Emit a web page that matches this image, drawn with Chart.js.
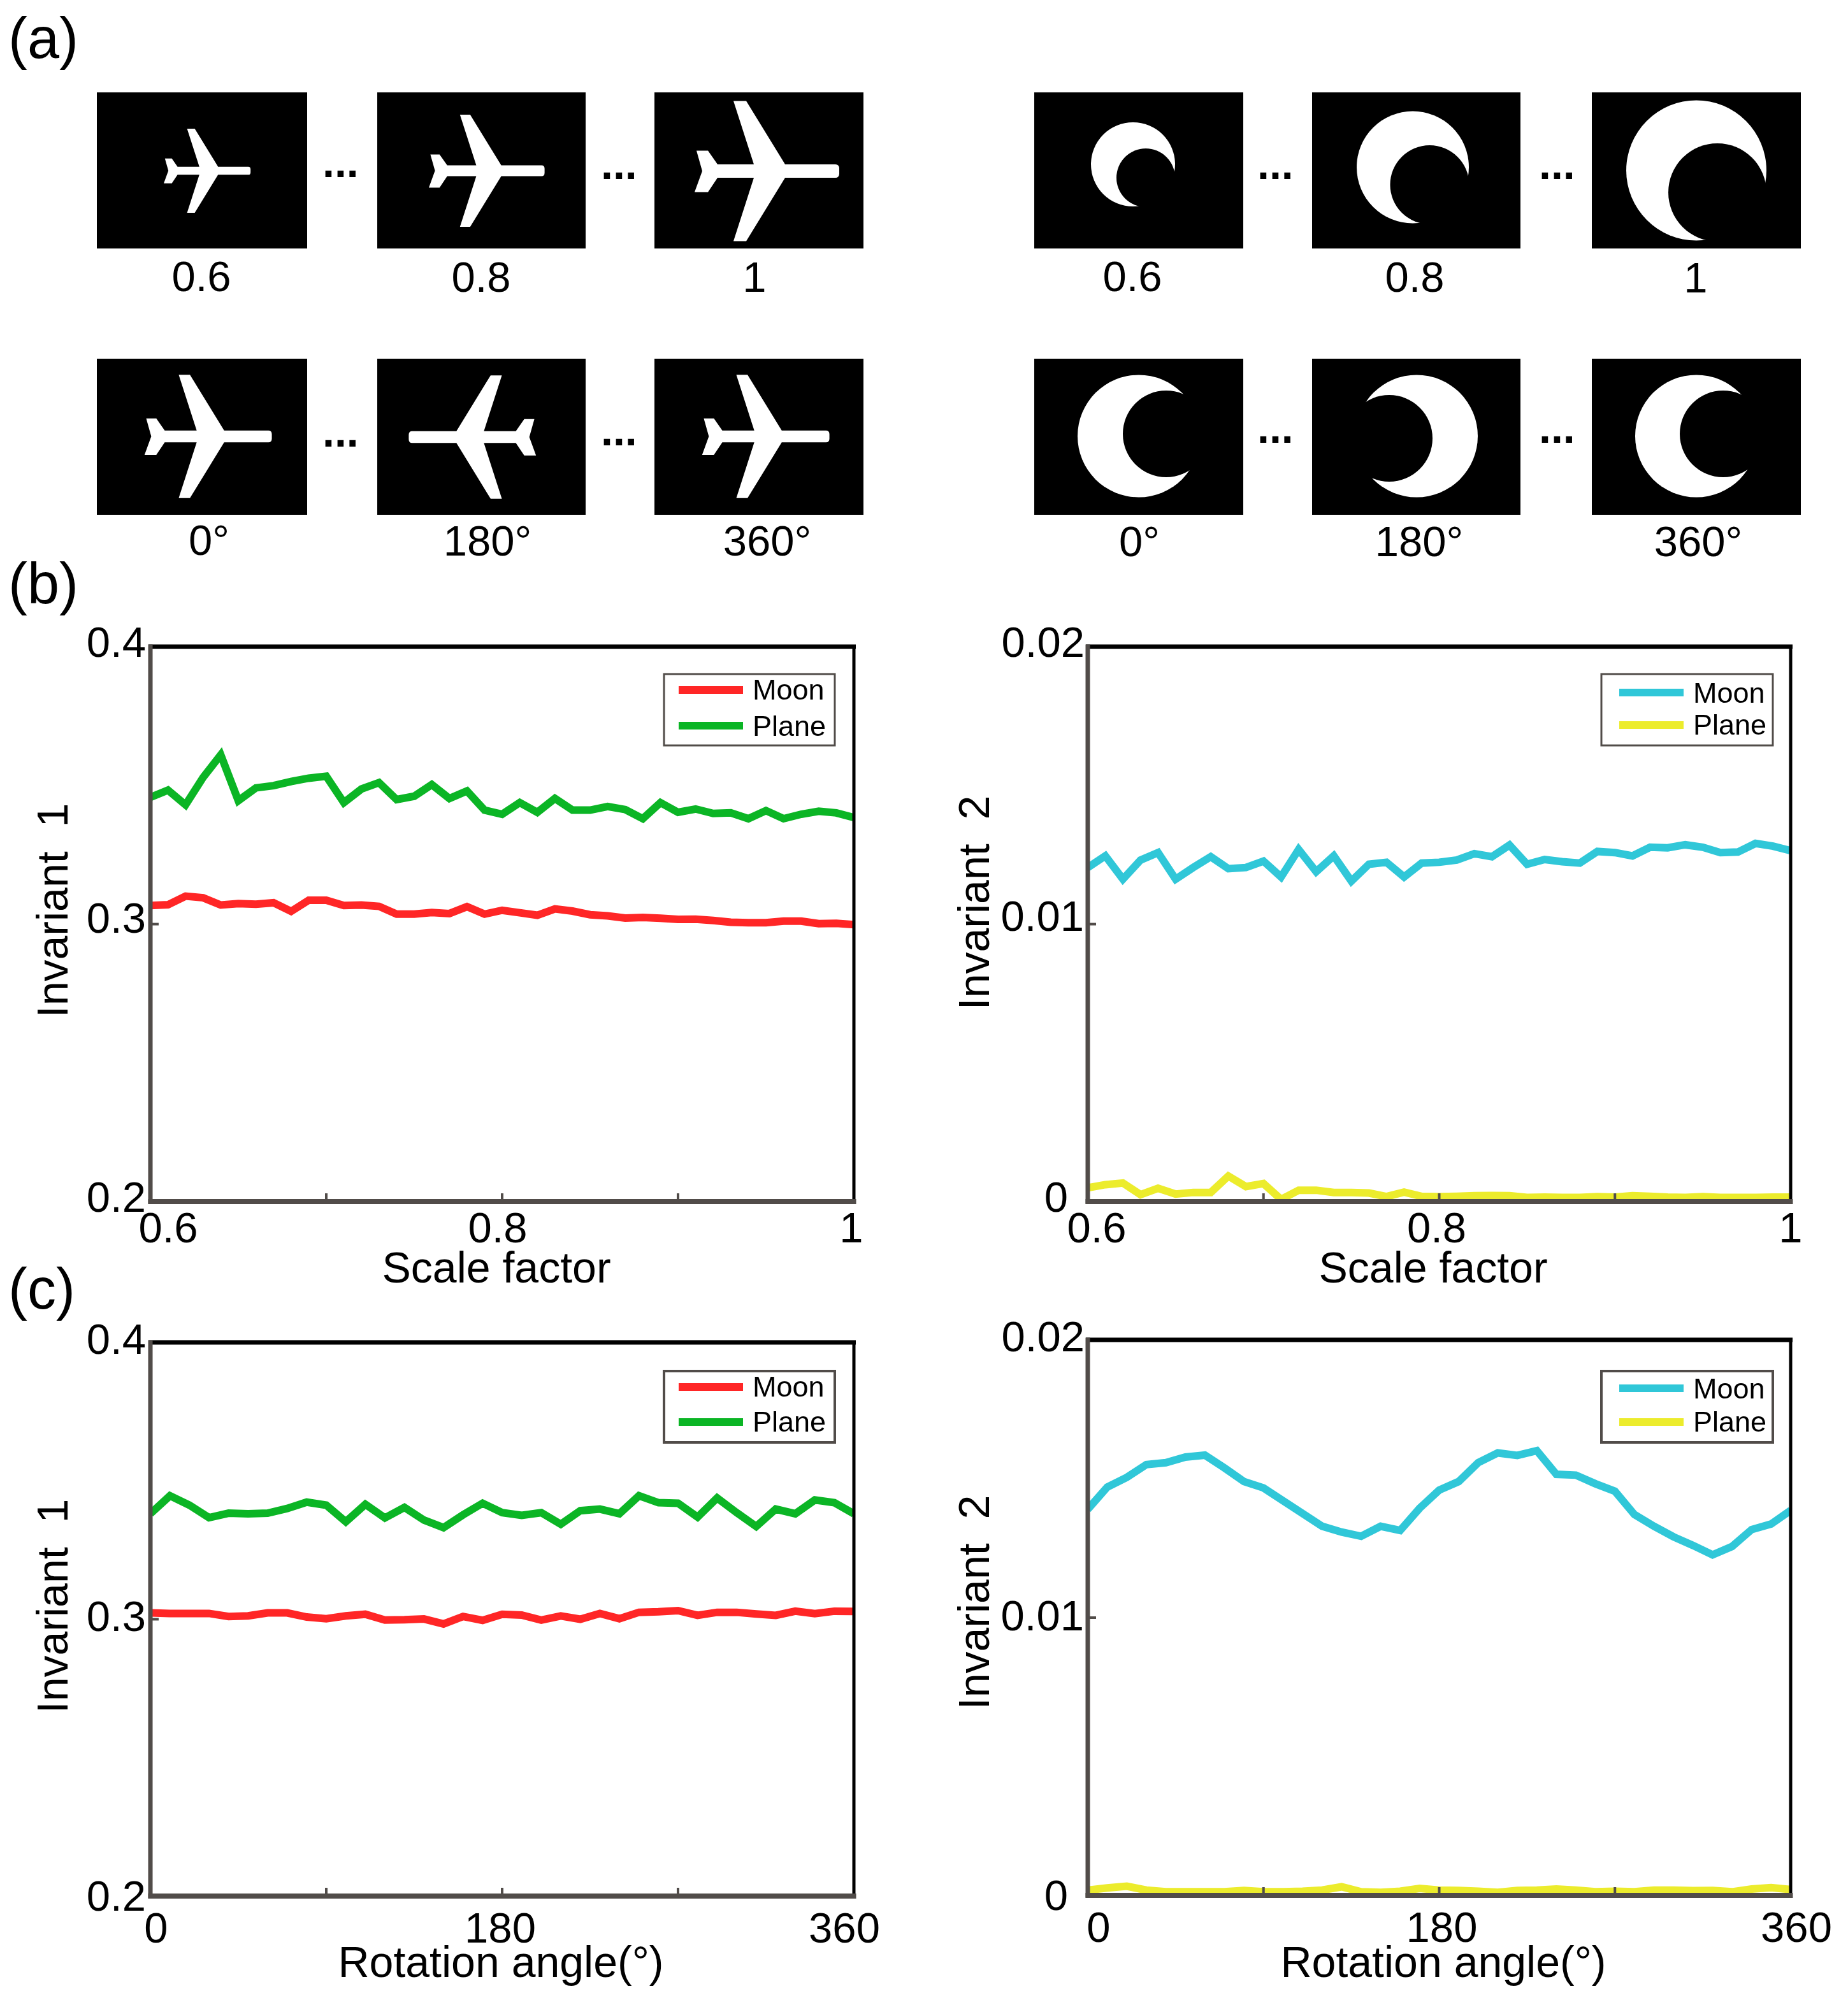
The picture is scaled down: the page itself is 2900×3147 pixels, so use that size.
<!DOCTYPE html>
<html>
<head>
<meta charset="utf-8">
<title>Invariants</title>
<style>
html,body{margin:0;padding:0;background:#fff;width:2900px;height:3147px;overflow:hidden}
canvas{position:absolute;display:block}
svg{position:absolute;left:0;top:0;pointer-events:none}
svg text{font-family:"Liberation Sans",Arial,sans-serif;fill:#000}
</style>
<script src="https://cdn.jsdelivr.net/npm/chart.js@4/dist/chart.umd.js"></script>
</head>
<body>
<svg id="art" width="2900" height="3147" viewBox="0 0 2900 3147" xmlns="http://www.w3.org/2000/svg">
<defs>
<path id="plane" fill="#fff" d="M27,-10.6 L106,-10.6 Q112,-10.6 112,-4 L112,4 Q112,10.6 106,10.6 L27,10.6 L-34,110 L-54,110 L-22,10.6 L-79,10.6 L-94,33 L-115,33 L-103,0 L-112,-32 L-94,-32 L-79,-10.6 L-22,-10.6 L-54,-110 L-34,-110 Z"/>
</defs>
</svg>
<canvas id="c1" width="1440" height="1060" style="left:0;top:980px"></canvas>
<canvas id="c2" width="1450" height="1060" style="left:1450px;top:980px"></canvas>
<canvas id="c3" width="1440" height="1087" style="left:0;top:2060px"></canvas>
<canvas id="c4" width="1450" height="1087" style="left:1450px;top:2060px"></canvas>
<script>
const scaleFactors = [0.60,0.61,0.62,0.63,0.64,0.65,0.66,0.67,0.68,0.69,0.70,0.71,0.72,0.73,0.74,0.75,0.76,0.77,0.78,0.79,0.80,0.81,0.82,0.83,0.84,0.85,0.86,0.87,0.88,0.89,0.90,0.91,0.92,0.93,0.94,0.95,0.96,0.97,0.98,0.99,1.00];
const rotationAngles = [0,10,20,30,40,50,60,70,80,90,100,110,120,130,140,150,160,170,180,190,200,210,220,230,240,250,260,270,280,290,300,310,320,330,340,350,360];

const scaleMoonInv1 = [.3067,.3070,.3101,.3095,.3069,.3074,.3072,.3077,.3046,.3086,.3086,.3067,.3069,.3064,.3036,.3036,.3042,.3038,.3063,.3036,.3050,.3041,.3032,.3055,.3047,.3034,.3030,.3022,.3024,.3021,.3017,.3018,.3013,.3007,.3005,.3005,.3011,.3011,.3002,.3003,.2998];
const scalePlaneInv1 = [.3457,.3483,.3430,.3529,.3610,.3445,.3491,.3499,.3514,.3526,.3533,.3438,.3487,.3510,.3449,.3461,.3503,.3453,.3480,.3411,.3396,.3438,.3403,.3453,.3411,.3411,.3424,.3413,.3380,.3438,.3403,.3415,.3399,.3401,.3380,.3409,.3380,.3396,.3407,.3401,.3384];
const scaleMoonInv2 = [.01204,.01246,.01162,.01231,.01258,.01162,.01204,.01243,.01200,.01204,.01227,.01170,.01269,.01189,.01246,.01155,.01216,.01223,.01170,.01220,.01223,.01231,.01254,.01243,.01285,.01216,.01233,.01225,.01220,.01262,.01258,.01246,.01277,.01275,.01286,.01277,.01258,.01260,.01291,.01281,.01265];
const scalePlaneInv2 = [.00050,.00061,.00067,.00025,.00048,.00027,.00033,.00033,.00092,.00054,.00065,.00008,.00041,.00041,.00033,.00033,.00031,.00018,.00034,.00019,.00018,.00019,.00021,.00022,.00021,.00015,.00016,.00015,.00015,.00018,.00016,.00021,.00019,.00016,.00015,.00018,.00015,.00015,.00015,.00016,.00016];
const rotMoonInv1 = [.3023,.3021,.3021,.3021,.3010,.3012,.3023,.3023,.3008,.3002,.3012,.3018,.2997,.2998,.3001,.2983,.3010,.2996,.3018,.3015,.2997,.3012,.3000,.3021,.3002,.3025,.3027,.3031,.3014,.3025,.3025,.3019,.3014,.3029,.3020,.3029,.3028];
const rotPlaneInv1 = [.3381,.3446,.3412,.3367,.3383,.3381,.3383,.3400,.3423,.3412,.3352,.3415,.3366,.3404,.3358,.3331,.3377,.3419,.3385,.3375,.3385,.3343,.3392,.3398,.3381,.3446,.3421,.3419,.3369,.3438,.3385,.3335,.3398,.3381,.3431,.3421,.3381];
const rotMoonInv2 = [.01390,.01470,.01505,.01551,.01558,.01578,.01585,.01539,.01490,.01467,.01421,.01375,.01329,.01308,.01293,.01329,.01314,.01394,.01459,.01490,.01558,.01593,.01584,.01601,.01516,.01513,.01482,.01455,.01371,.01329,.01291,.01260,.01226,.01256,.01317,.01337,.01386];
const rotPlaneInv2 = [.00019,.00027,.00033,.00019,.00013,.00013,.00013,.00013,.00018,.00013,.00013,.00015,.00019,.00031,.00013,.00011,.00015,.00025,.00019,.00018,.00015,.00011,.00018,.00019,.00023,.00019,.00013,.00015,.00013,.00019,.00019,.00017,.00018,.00013,.00023,.00028,.00021];

const scaleTicks = [0.6,0.7,0.8,0.9,1];
const scaleTickLabels = ['0.6','','0.8','','1'];
const rotationTicks = [0,90,180,270,360];
const rotationTickLabels = ['0','','180','','360'];
const inv1Ticks = [0.2,0.3,0.4];
const inv1TickLabels = ['0.2','0.3','0.4'];
const inv2Ticks = [0,0.01,0.02];
const inv2TickLabels = ['0','0.01','0.02'];
const seriesNames = ['Moon','Plane'];

const RED='#ff2626', GREEN='#0bb525', CYAN='#30c7d8', YELLOW='#ecec2c', AXIS='#514c49';
const FONT='"Liberation Sans",Arial,sans-serif';

const framePlugin = {
  id:'frame',
  afterDatasetsDraw(chart){
    const o = chart.options.plugins.frame, ctx = chart.ctx, a = chart.chartArea;
    const X = chart.scales.x, Y = chart.scales.y;
    const ox = o.origin[0], oy = o.origin[1];
    ctx.save();
    // inward tick marks
    ctx.fillStyle = AXIS;
    X.ticks.forEach((t,i)=>{ if(i>0 && i<X.ticks.length-1){ const p=X.getPixelForValue(t.value); ctx.fillRect(p-2,a.bottom-13,4,13);} });
    Y.ticks.forEach((t,i)=>{ if(i>0 && i<Y.ticks.length-1){ const p=Y.getPixelForValue(t.value); ctx.fillRect(a.left,p-2,13,4);} });
    // box: black top/right, grey left/bottom
    ctx.fillStyle = '#000';
    ctx.fillRect(a.left-3,a.top-3.5,a.right-a.left+6,7);
    ctx.fillRect(a.right-2.5,a.top-3,5,a.bottom-a.top+3);
    ctx.fillStyle = AXIS;
    ctx.fillRect(a.left-3.5,a.top-3.5,7,a.bottom-a.top+7);
    ctx.fillRect(a.left-3.5,a.bottom-4,a.right-a.left+7,8);
    // tick labels
    ctx.fillStyle='#000';
    ctx.font='67px '+FONT;
    ctx.textBaseline='alphabetic';
    ctx.textAlign='center';
    o.xLabels.forEach((s,i)=>{
      if(!s) return;
      ctx.fillText(s,X.getPixelForValue(X.ticks[i].value)+o.xDx[i],o.xBase-oy);
    });
    ctx.textAlign='right';
    ctx.textBaseline='middle';
    o.yLabels.forEach((s,i)=>{
      ctx.fillText(s,a.left+o.yDx[i],Y.getPixelForValue(Y.ticks[i].value)+o.yDy[i]);
    });
    // axis titles
    ctx.font='68px '+FONT;
    ctx.textAlign='center';
    ctx.textBaseline='alphabetic';
    ctx.fillText(o.xTitle,o.xTitlePos[0]-ox,o.xTitlePos[1]-oy);
    ctx.save();
    ctx.translate(o.yTitlePos[0]-ox,o.yTitlePos[1]-oy);
    ctx.rotate(-Math.PI/2);
    ctx.textBaseline='middle';
    ctx.fillText(o.yTitle,0,0);
    ctx.restore();
    // legend box
    const L=o.legend;
    ctx.fillStyle='#fff';
    ctx.fillRect(L.box[0]-ox,L.box[1]-oy,L.box[2],L.box[3]);
    ctx.strokeStyle=AXIS;
    ctx.lineWidth=L.border;
    ctx.strokeRect(L.box[0]-ox,L.box[1]-oy,L.box[2],L.box[3]);
    ctx.font='45px '+FONT;
    ctx.textAlign='left';
    ctx.textBaseline='alphabetic';
    chart.data.datasets.forEach((d,i)=>{
      ctx.fillStyle=d.borderColor;
      ctx.fillRect(L.swatchX[0]-ox,L.swatchY[i]-6-oy,L.swatchX[1]-L.swatchX[0],12);
      ctx.fillStyle='#000';
      ctx.fillText(d.label,L.textX-ox,L.base[i]-oy);
    });
    ctx.restore();
  }
};

function makeChart(id,rect,area,xs,series,colors,xr,yr,xT,yT,frame){
  const cv=document.getElementById(id);
  frame.origin=[rect[0],rect[1]];
  return new Chart(cv,{
    type:'line',
    data:{datasets:series.map((s,i)=>({
      label:seriesNames[i],
      data:s.map((v,j)=>({x:xs[j],y:v})),
      borderColor:colors[i],
      backgroundColor:colors[i],
      borderWidth:12,
      borderJoinStyle:'miter',
      borderCapStyle:'butt',
      pointRadius:0,
      tension:0,
      fill:false,
      clip:0
    }))},
    options:{
      responsive:false,
      animation:false,
      devicePixelRatio:1,
      events:[],
      layout:{padding:{left:area[0]-rect[0],top:area[1]-rect[1],right:rect[0]+rect[2]-area[2],bottom:rect[1]+rect[3]-area[3]}},
      plugins:{legend:{display:false},title:{display:false},tooltip:{enabled:false},frame:frame},
      scales:{
        x:{type:'linear',min:xr[0],max:xr[1],grid:{display:false,drawTicks:false},border:{display:false},
           ticks:{display:false},afterBuildTicks(s){s.ticks=xT.map(v=>({value:v}));}},
        y:{type:'linear',min:yr[0],max:yr[1],grid:{display:false,drawTicks:false},border:{display:false},
           ticks:{display:false},afterBuildTicks(s){s.ticks=yT.map(v=>({value:v}));}}
      }
    },
    plugins:[framePlugin]
  });
}

makeChart('c1',[0,980,1440,1060],[236,1015,1340,1886],scaleFactors,[scaleMoonInv1,scalePlaneInv1],[RED,GREEN],[0.6,1],[0.2,0.4],scaleTicks,inv1Ticks,{
  xLabels:scaleTickLabels,xDx:[28,0,-7,0,-4],xBase:1950,yLabels:inv1TickLabels,yDx:[-7,-7,-7],yDy:[-2,-5,-2],
  xTitle:'Scale factor',xTitlePos:[779,2013],yTitle:'Invariant  1',yTitlePos:[87,1429],
  legend:{box:[1042,1058,268,112],border:3,swatchX:[1065,1166],swatchY:[1083,1139],textX:1181,base:[1098,1155]}
});
makeChart('c2',[1450,980,1450,1060],[1707,1015,2810,1886],scaleFactors,[scaleMoonInv2,scalePlaneInv2],[CYAN,YELLOW],[0.6,1],[0,0.02],scaleTicks,inv2Ticks,{
  xLabels:scaleTickLabels,xDx:[14,0,-4,0,0],xBase:1950,yLabels:inv2TickLabels,yDx:[-31,-6,-5],yDy:[-2,-8,-2],
  xTitle:'Scale factor',xTitlePos:[2249,2013],yTitle:'Invariant  2',yTitlePos:[1533,1417],
  legend:{box:[2513,1058,269,112],border:3,swatchX:[2541,2642],swatchY:[1087,1138],textX:2657,base:[1103,1153]}
});
makeChart('c3',[0,2060,1440,1087],[236,2107,1340,2976],rotationAngles,[rotMoonInv1,rotPlaneInv1],[RED,GREEN],[0,360],[0.2,0.4],rotationTicks,inv1Ticks,{
  xLabels:rotationTickLabels,xDx:[9,0,-3,0,-15],xBase:3049,yLabels:inv1TickLabels,yDx:[-7,-7,-7],yDy:[5,0,0],
  xTitle:'Rotation angle(°)',xTitlePos:[786,3103],yTitle:'Invariant  1',yTitlePos:[87,2521],
  legend:{box:[1042,2152,268,112],border:4,swatchX:[1065,1166],swatchY:[2177,2232],textX:1181,base:[2192,2247]}
});
makeChart('c4',[1450,2060,1450,1087],[1707,2103,2810,2975],rotationAngles,[rotMoonInv2,rotPlaneInv2],[CYAN,YELLOW],[0,360],[0,0.02],rotationTicks,inv2Ticks,{
  xLabels:rotationTickLabels,xDx:[17,0,4,0,9],xBase:3048,yLabels:inv2TickLabels,yDx:[-31,-6,-5],yDy:[5,2,0],
  xTitle:'Rotation angle(°)',xTitlePos:[2265,3103],yTitle:'Invariant  2',yTitlePos:[1533,2515],
  legend:{box:[2513,2152,269,112],border:4,swatchX:[2541,2642],swatchY:[2179,2232],textX:2657,base:[2195,2247]}
});

/* panel (a): binary image thumbnails and captions */
const NS='http://www.w3.org/2000/svg', art=document.getElementById('art');
function el(tag,attrs,text){const e=document.createElementNS(NS,tag);for(const k in attrs)e.setAttribute(k,attrs[k]);if(text!==undefined)e.textContent=text;art.appendChild(e);return e;}
function txt(s,x,y,size,anchor,weight){return el('text',{x:x,y:y,'font-size':size,'text-anchor':anchor||'middle','font-weight':weight||'normal'},s);}
const rows=[[145,245],[563,245]];
const leftCols=[[152,330],[592,327],[1027,328]];
const rightCols=[[1623,328],[2059,327],[2498,328]];
rows.forEach(r=>leftCols.concat(rightCols).forEach(c=>el('rect',{x:c[0],y:r[0],width:c[1],height:r[1],fill:'#000'})));
[[326,268,.6,1],[765,268,.8,1],[1205,268.5,1,1],[328,685,.88,1],[740,686,.88,-1],[1203,685,.88,1]].forEach(p=>{
  el('use',{href:'#plane',transform:`translate(${p[0]} ${p[1]}) scale(${p[2]*p[3]} ${p[2]})`});
});
function moon(cx,cy,r,ir,dx,dy){el('circle',{cx:cx,cy:cy,r:r,fill:'#fff'});el('circle',{cx:cx+dx,cy:cy+dy,r:ir,fill:'#000'});}
moon(1778,258,66,46,20,21);
moon(2217,262.5,88,62,26.5,27.5);
moon(2662,267.5,110,77,33,34.5);
moon(1787,684.5,96,68,43,-3.5);
moon(2223,684.5,96,68,-43,3.5);
moon(2662,684.5,96,68,42,-3.5);
[['0.6',316,457],['0.8',755,458],['1',1184,458],['0°',328,871],['180°',765,872],['360°',1204,872],
 ['0.6',1777,457],['0.8',2220,458],['1',2661,459],['0°',1788,873],['180°',2227,873],['360°',2665,873]]
 .forEach(t=>txt(t[0],t[1],t[2],67));
[[511,278],[948,281],[511,701],[948,699],[1978,281],[2420,281],[1978,695],[2420,695]]
 .forEach(p=>txt('...',p[0]-5,p[1],68,'start','bold'));
[['(a)',91],['(b)',947],['(c)',2054]].forEach(t=>txt(t[0],13,t[1],90,'start'));
</script>
</body>
</html>
